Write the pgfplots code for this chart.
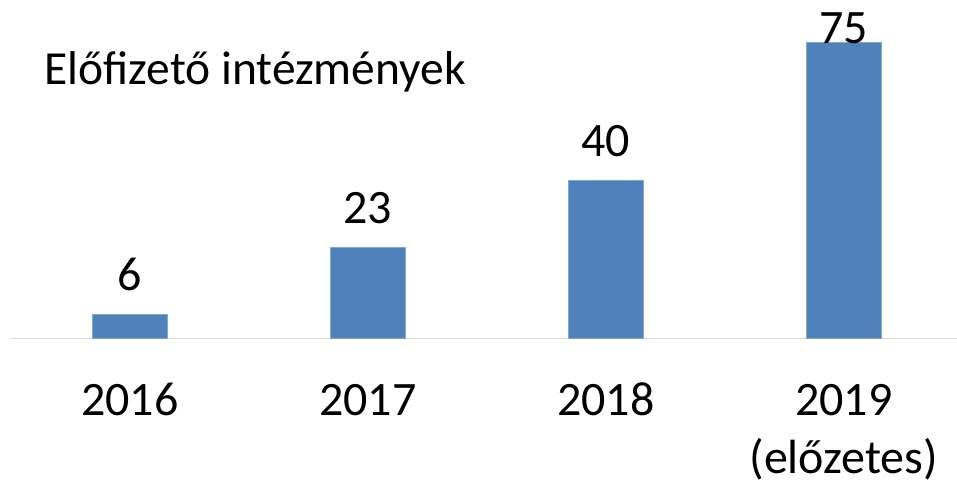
\documentclass[border=0pt]{standalone}
\usepackage{pgfplots}
\pgfplotsset{compat=1.18}
\usepackage{fontspec}
\setmainfont{Carlito}
\definecolor{barblue}{HTML}{4F81BD}
\definecolor{axgray}{HTML}{D9D9D9}
\begin{document}
\begin{tikzpicture}
\begin{axis}[
  at={(0,0)}, anchor=south west,
  scale only axis,
  width=473pt, height=169.15pt,
  xmin=-0.5, xmax=3.476,
  ymin=0, ymax=85.62,
  clip=false,
  axis x line*=bottom,
  axis y line=none,
  x axis line style={draw=axgray, line width=0.75pt},
  xtick={0,1,2,3},
  xticklabels={2016,2017,2018,{\begin{tabular}[t]{@{}c@{}}2019\\(előzetes)\end{tabular}}},
  xtick style={draw=none},
  ytick=\empty,
  xticklabel style={anchor=base, yshift=-38.35pt, font=\fontsize{24}{29}\selectfont, text=black},
  /pgf/number format/assume math mode=true,
  title={Előfizető intézmények},
  title style={at={(rel axis cs:0,1)}, anchor=base west, xshift=16.65pt, yshift=-48.35pt, inner sep=0pt, font=\fontsize{23.75}{28}\selectfont},
]
\addplot[ybar, bar shift=0pt, bar width=37.35pt, fill=barblue, draw=barblue!70!white, line width=0.4pt,
  nodes near coords,
  every node near coord/.append style={anchor=base, yshift=11.8pt, text=black, font=\fontsize{24}{29}\selectfont}]
  coordinates {(0,6) (1,23) (2,40)};
\addplot[ybar, bar shift=0pt, bar width=37.35pt, fill=barblue, draw=barblue!70!white, line width=0.4pt,
  nodes near coords,
  every node near coord/.append style={anchor=base, yshift=-0.65pt, text=black, font=\fontsize{24}{29}\selectfont}]
  coordinates {(3,75)};
\end{axis}
\pgfresetboundingbox
\path (-5.5pt,-71.85pt) rectangle (473pt,169.15pt);
\end{tikzpicture}
\end{document}
